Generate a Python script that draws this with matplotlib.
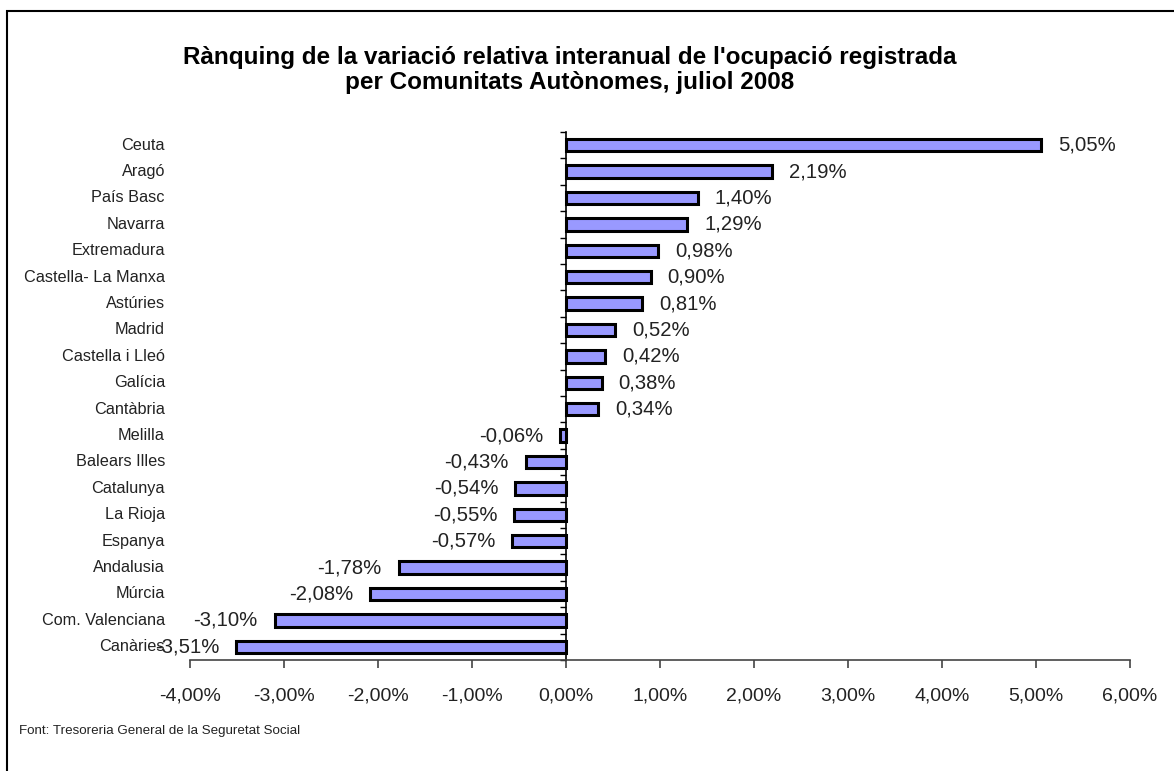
import matplotlib.pyplot as plt
import matplotlib.transforms as mtransforms
from matplotlib.ticker import FuncFormatter
from matplotlib.patches import Rectangle
import numpy as np

plt.rcParams['font.family'] = ['Liberation Sans', 'DejaVu Sans']

# data, top to bottom as in the chart
regions = ["Ceuta", "Aragó", "País Basc", "Navarra", "Extremadura",
           "Castella- La Manxa", "Astúries", "Madrid", "Castella i Lleó",
           "Galícia", "Cantàbria", "Melilla", "Balears Illes", "Catalunya",
           "La Rioja", "Espanya", "Andalusia", "Múrcia", "Com. Valenciana",
           "Canàries"]
variation = [5.05, 2.19, 1.40, 1.29, 0.98, 0.90, 0.81, 0.52, 0.42, 0.38,
             0.34, -0.06, -0.43, -0.54, -0.55, -0.57, -1.78, -2.08, -3.10,
             -3.51]
x_ticks = [-4, -3, -2, -1, 0, 1, 2, 3, 4, 5, 6]

TITLE = ("Rànquing de la variació relativa interanual de l'ocupació registrada\n"
         "per Comunitats Autònomes, juliol 2008")
SOURCE = "Font: Tresoreria General de la Seguretat Social"
BAR_COLOR = "#9999FF"


def pct(v):
    return f"{v:.2f}".replace(".", ",") + "%"


fig = plt.figure(figsize=(11.74, 7.71), dpi=100)
ax = fig.add_axes([190 / 1174, 1 - 660 / 771, 940 / 1174, 528 / 771])

n = len(regions)
ypos = np.arange(n)
ax.barh(ypos, variation, height=0.47, color=BAR_COLOR, edgecolor="black",
        linewidth=2.2, zorder=3)
ax.set_ylim(n - 0.5, -0.5)
ax.set_xlim(x_ticks[0], x_ticks[-1])

# spines: x axis at bottom, y axis through zero
for s in ["top", "right"]:
    ax.spines[s].set_visible(False)
ax.spines["left"].set_position(("data", 0))
ax.spines["left"].set_linewidth(1.2)
ax.spines["bottom"].set_color("#444444")
ax.spines["bottom"].set_linewidth(1.2)

ax.set_xticks(x_ticks)
ax.xaxis.set_major_formatter(FuncFormatter(lambda v, p: pct(v)))
ax.tick_params(axis="x", direction="out", length=6, width=1.2, color="#444444",
               pad=14, labelsize=14, labelcolor="#222222")

# y ticks between categories, labels drawn separately on the far left
ax.set_yticks(np.arange(n + 1) - 0.5)
ax.set_yticklabels([])
ax.tick_params(axis="y", direction="out", length=4, width=1.0)

lab_tr = mtransforms.offset_copy(ax.get_yaxis_transform(), fig=fig,
                                 x=-25, y=0, units="dots")
for i, name in enumerate(regions):
    ax.text(0, i, name, transform=lab_tr, ha="right", va="center",
            fontsize=11.7, color="#222222")

# value labels
for i, v in enumerate(variation):
    off = 17 if v >= 0 else -17
    tr = mtransforms.offset_copy(ax.transData, fig=fig, x=off, y=0, units="dots")
    ax.text(v, i, pct(v), transform=tr, ha="left" if v >= 0 else "right",
            va="center", fontsize=14.6, color="#222222", zorder=4)

fig.text(570 / 1174, 1 - 70 / 771, TITLE, ha="center", va="center",
         fontsize=17.5, fontweight="bold", linespacing=1.1)
fig.text(19 / 1174, 1 - 731 / 771, SOURCE, ha="left", va="center",
         fontsize=9.6, color="#222222")

# chart border (left and top visible)
fig.patches.append(Rectangle((7 / 1174, -0.1), 1.2, 1 - 11 / 771 + 0.1,
                             transform=fig.transFigure, fill=False,
                             edgecolor="black", linewidth=1.5))

fig.savefig("out.png", dpi=100)
